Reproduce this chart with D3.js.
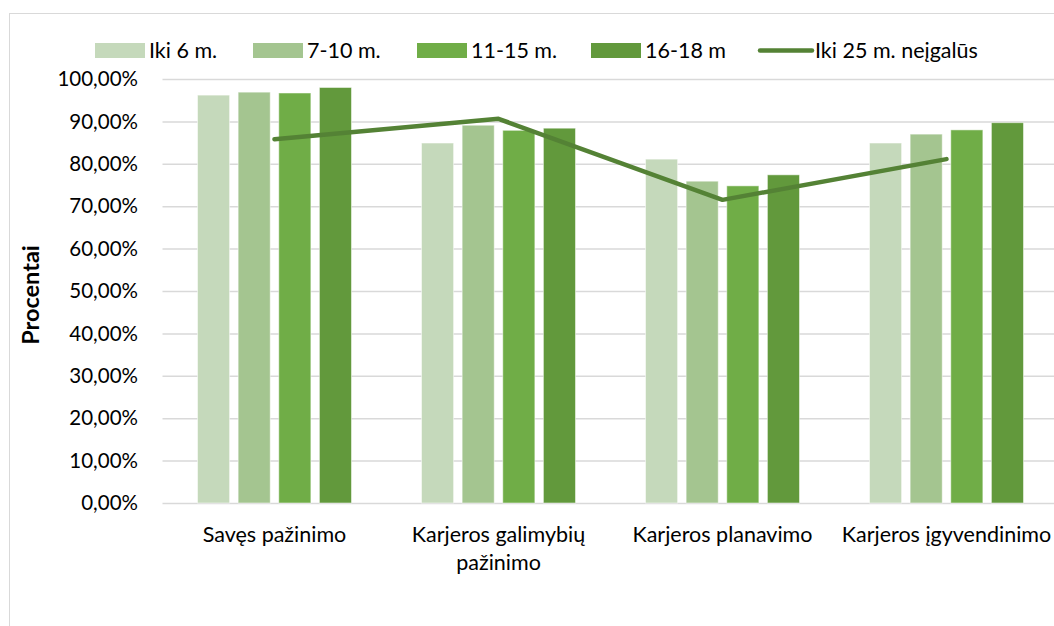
<!DOCTYPE html>
<html>
<head>
<meta charset="utf-8">
<script src="https://cdn.jsdelivr.net/npm/d3@7"></script>
<style>
  body { margin: 0; background: #fff; }
  text { font-family: Lato, "Noto Sans", sans-serif; fill: #000; }
</style>
</head>
<body>
<div id="chart"></div>
<script>
// data
const categories = ["Savęs pažinimo", "Karjeros galimybių pažinimo", "Karjeros planavimo", "Karjeros įgyvendinimo"];
const categoryLines = [["Savęs pažinimo"], ["Karjeros galimybių", "pažinimo"], ["Karjeros planavimo"], ["Karjeros įgyvendinimo"]];
const barSeries = ["Iki 6 m.", "7-10 m.", "11-15 m.", "16-18 m"];
const iki6 = [96.2, 84.9, 81.1, 84.9];
const m7_10 = [96.9, 89.1, 75.9, 87.0];
const m11_15 = [96.7, 87.9, 74.8, 88.0];
const m16_18 = [98.0, 88.4, 77.4, 89.7];
const lineName = "Iki 25 m. neįgalūs";
const iki25 = [85.8, 90.6, 71.5, 81.1];
const yTicks = [0, 10, 20, 30, 40, 50, 60, 70, 80, 90, 100];

const barValues = [iki6, m7_10, m11_15, m16_18];
const barColors = ["#c5d9bb", "#a4c590", "#70ad47", "#62993c"];
const lineColor = "#548235";

const W = 1054, H = 626;
const svg = d3.select("#chart").append("svg")
    .attr("width", W).attr("height", H);

// chart frame
svg.append("rect")
    .attr("x", 9.5).attr("y", 13.5)
    .attr("width", W + 10).attr("height", H + 10)
    .attr("fill", "none").attr("stroke", "#d9d9d9");

const plot = {left: 162.5, right: 1058.5, top: 79, bottom: 503};

const x0 = d3.scaleBand().domain(categories).range([plot.left, plot.right]).padding(0);
const x1 = d3.scaleBand().domain(barSeries).range([35, 189]).paddingInner(0.21);
const y = d3.scaleLinear().domain([0, 100]).range([plot.bottom, plot.top]);

// gridlines
svg.append("g").selectAll("line")
    .data(yTicks).join("line")
    .attr("x1", plot.left).attr("x2", W)
    .attr("y1", d => y(d) + 0.5).attr("y2", d => y(d) + 0.5)
    .attr("stroke", "#d9d9d9").attr("stroke-width", 1.5);

// y axis labels
const fmt = d => d3.format(".2f")(d).replace(".", ",") + "%";
svg.append("g").selectAll("text")
    .data(yTicks).join("text")
    .attr("x", 138).attr("y", d => y(d))
    .attr("dy", "0.35em")
    .attr("text-anchor", "end")
    .style("font-size", "20.5px")
    .text(fmt);

// y title
svg.append("text")
    .attr("transform", "translate(39,295) rotate(-90)")
    .attr("text-anchor", "middle")
    .style("font-size", "23.5px").style("font-weight", "bold")
    .text("Procentai");

// bars
const groups = svg.append("g").selectAll("g")
    .data(categories).join("g")
    .attr("transform", d => `translate(${x0(d)},0)`);

groups.selectAll("rect")
    .data((c, ci) => barSeries.map((s, si) => ({s, si, v: barValues[si][ci]})))
    .join("rect")
    .attr("x", d => x1(d.s))
    .attr("width", x1.bandwidth())
    .attr("y", d => y(d.v))
    .attr("height", d => y(0) - y(d.v))
    .attr("fill", d => barColors[d.si])
    .attr("stroke", "#fff").attr("stroke-opacity", 0.5).attr("stroke-width", 1);

// line series
const line = d3.line()
    .x((d, i) => x0(categories[i]) + x0.bandwidth() / 2)
    .y(d => y(d));

svg.append("path")
    .datum(iki25)
    .attr("d", line)
    .attr("fill", "none")
    .attr("stroke", lineColor)
    .attr("stroke-width", 4.5)
    .attr("stroke-linecap", "round")
    .attr("stroke-linejoin", "round");

// category labels
const catText = svg.append("g").selectAll("text")
    .data(categories).join("text")
    .attr("x", d => x0(d) + x0.bandwidth() / 2)
    .attr("y", 542)
    .attr("text-anchor", "middle")
    .style("font-size", "21.5px");

catText.selectAll("tspan")
    .data((d, i) => categoryLines[i]).join("tspan")
    .attr("x", function() { return d3.select(this.parentNode).attr("x"); })
    .attr("dy", (d, i) => i === 0 ? 0 : 28)
    .text(d => d);

// legend
const legendX = [95, 253, 417, 591];
const leg = svg.append("g");
barSeries.forEach((s, i) => {
    leg.append("rect")
        .attr("x", legendX[i]).attr("y", 43)
        .attr("width", 50).attr("height", 15)
        .attr("fill", barColors[i]);
    leg.append("text")
        .attr("x", legendX[i] + 54).attr("y", 50.5)
        .attr("dy", "0.35em")
        .style("font-size", "21.5px")
        .text(s);
});
leg.append("line")
    .attr("x1", 760).attr("x2", 812)
    .attr("y1", 50.5).attr("y2", 50.5)
    .attr("stroke", lineColor).attr("stroke-width", 4.5)
    .attr("stroke-linecap", "round");
leg.append("text")
    .attr("x", 815).attr("y", 50.5)
    .attr("dy", "0.35em")
    .style("font-size", "21.5px")
    .text(lineName);
</script>
</body>
</html>
